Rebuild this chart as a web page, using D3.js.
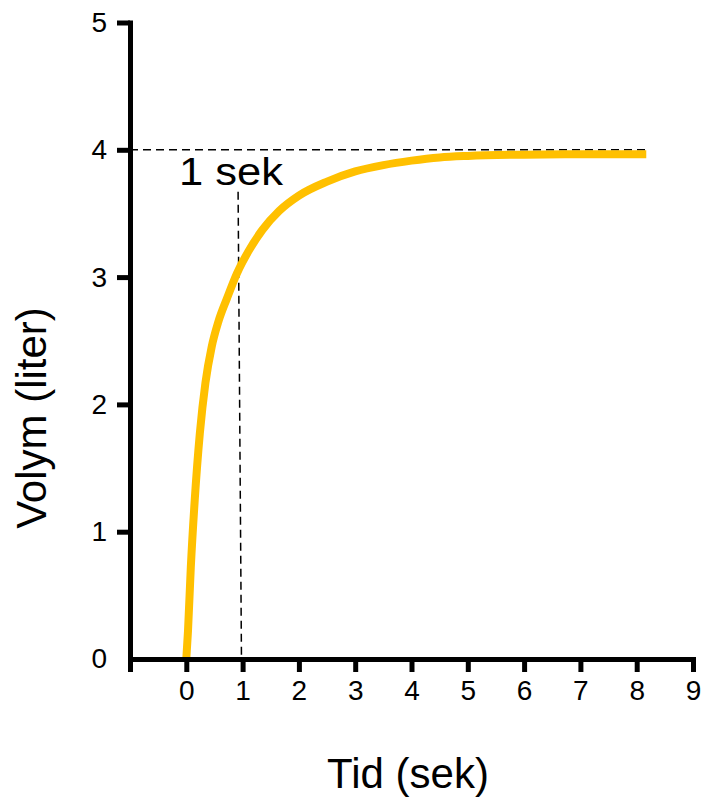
<!DOCTYPE html>
<html>
<head>
<meta charset="utf-8">
<script src="https://cdn.jsdelivr.net/npm/d3@7"></script>
<style>
  html, body { margin: 0; padding: 0; background: #fff; }
  svg { display: block; }
  text { font-family: "Liberation Sans", Arial, Helvetica, sans-serif; fill: #000; }
</style>
</head>
<body>
<svg id="chart" width="702" height="800"></svg>
<script>
// Expired volume over time (forced expiration curve)
const timeSec = [0, 0.03, 0.08, 0.15, 0.24, 0.34, 0.45, 0.57, 0.72, 0.9, 1.1, 1.35, 1.65, 2.0, 2.5, 3.0, 3.5, 4.0, 4.5, 5.0, 6.0, 7.0, 8.17];
const volumeL = [0, 0.22, 0.72, 1.25, 1.77, 2.17, 2.45, 2.65, 2.83, 3.03, 3.2, 3.37, 3.52, 3.64, 3.75, 3.83, 3.88, 3.915, 3.94, 3.952, 3.962, 3.965, 3.965];

// Reference guides: plateau level and the one-second mark
const plateauX = [-1, 8.19];
const plateauY = [4, 4];
const oneSecX = [0.92, 0.98];
const oneSecY = [3.67, 0];

const xTicks = [-1, 0, 1, 2, 3, 4, 5, 6, 7, 8, 9];
const xTickLabels = ["", "0", "1", "2", "3", "4", "5", "6", "7", "8", "9"];
const yTicks = [0, 1, 2, 3, 4, 5];
const yTickLabels = ["0", "1", "2", "3", "4", "5"];

const xTitle = "Tid (sek)";
const yTitle = "Volym (liter)";
const guideLabel = "1 sek";

const svg = d3.select("#chart");

const x = d3.scaleLinear().domain([-1, 9]).range([130, 693]);
const y = d3.scaleLinear().domain([0, 5]).range([659, 22.5]);

const axisW = 5;

// Dashed guide lines
const guide = d3.line().x(d => x(d[0])).y(d => y(d[1]));
svg.append("path")
  .attr("d", guide(d3.zip(plateauX, plateauY)))
  .attr("fill", "none").attr("stroke", "#000")
  .attr("stroke-width", 1.5).attr("stroke-dasharray", "8,5");
svg.append("path")
  .attr("d", guide(d3.zip(oneSecX, oneSecY)))
  .attr("fill", "none").attr("stroke", "#000")
  .attr("stroke-width", 1.5).attr("stroke-dasharray", "8,5");

// Volume curve
const line = d3.line()
  .x(d => x(d[0]))
  .y(d => y(d[1]))
  .curve(d3.curveMonotoneX);
svg.append("path")
  .attr("d", line(d3.zip(timeSec, volumeL)))
  .attr("fill", "none")
  .attr("stroke", "#FFC000")
  .attr("stroke-width", 8)
  .attr("stroke-linejoin", "round");

// X axis
const xAxis = d3.axisBottom(x)
  .tickValues(xTicks)
  .tickFormat((d, i) => xTickLabels[i])
  .tickSize(13)
  .tickSizeOuter(0)
  .tickPadding(8);
const gx = svg.append("g").attr("transform", `translate(0,${y(0)})`).call(xAxis);
gx.select(".domain").attr("stroke-width", axisW).attr("stroke-linecap", "square");
gx.selectAll(".tick line").attr("stroke-width", axisW);
gx.selectAll(".tick text").attr("font-size", 28).attr("font-family", "Liberation Sans, Arial, sans-serif");

// Y axis
const yAxis = d3.axisLeft(y)
  .tickValues(yTicks)
  .tickFormat((d, i) => yTickLabels[i])
  .tickSize(13)
  .tickSizeOuter(0)
  .tickPadding(10);
const gy = svg.append("g").attr("transform", `translate(${x(-1)},0)`).call(yAxis);
gy.select(".domain").attr("stroke-width", axisW).attr("stroke-linecap", "square");
gy.selectAll(".tick line").attr("stroke-width", axisW)
  .attr("display", d => d === 0 ? "none" : null);
gy.selectAll(".tick text").attr("font-size", 28).attr("font-family", "Liberation Sans, Arial, sans-serif");

// Axis titles
svg.append("text")
  .attr("x", 408).attr("y", 788)
  .attr("text-anchor", "middle")
  .attr("font-size", 42)
  .text(xTitle);
svg.append("text")
  .attr("transform", "translate(46,418) rotate(-90)")
  .attr("text-anchor", "middle")
  .attr("font-size", 42)
  .text(yTitle);

// Guide label
svg.append("text")
  .attr("x", 179).attr("y", 185)
  .attr("font-size", 38)
  .attr("textLength", 104)
  .attr("lengthAdjust", "spacingAndGlyphs")
  .text(guideLabel);
</script>
</body>
</html>
